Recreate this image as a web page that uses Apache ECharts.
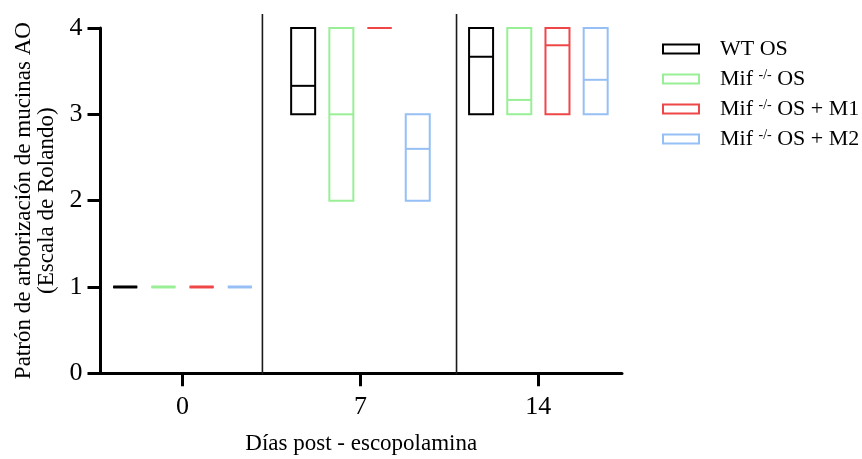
<!DOCTYPE html>
<html>
<head>
<meta charset="utf-8">
<script src="https://cdn.jsdelivr.net/npm/echarts@6/dist/echarts.min.js"></script>
<style>html,body{margin:0;padding:0;background:#fff}#c{width:862px;height:459px}</style>
</head>
<body>
<div id="c"></div>
<script>
// ---- data ----
var dayLabels = ['0', '7', '14'];
var seriesNames = ['WT OS', 'Mif -/- OS', 'Mif -/- OS + M1', 'Mif -/- OS + M2'];
var seriesColors = ['#000000', '#99ef95', '#ef4747', '#96c0f5'];
// each: [min, max, mean] per day (0, 7, 14)
var wtOS      = [[1, 1, 1], [3, 4, 3.33], [3, 4, 3.667]];
var mifOS     = [[1, 1, 1], [2, 4, 3.0],  [3, 4, 3.167]];
var mifOSM1   = [[1, 1, 1], [4, 4, 4.0],  [3, 4, 3.8]];
var mifOSM2   = [[1, 1, 1], [2, 3, 2.6],  [3, 4, 3.4]];
var seriesData = [wtOS, mifOS, mifOSM1, mifOSM2];
var yTicks = [0, 1, 2, 3, 4];
var separatorX = [0.449, 1.54];

var FONT = '"Liberation Serif", "Times New Roman", serif';
var chart = echarts.init(document.getElementById('c'), null, {renderer: 'canvas'});

function makeRender(si) {
  return function (params, api) {
    var x = api.value(0);
    var c = api.coord([x, api.value(1)]);
    var cTop = api.coord([x, api.value(2)]);
    var cMean = api.coord([x, api.value(3)]);
    var off = (si - 1.5) * 38.2;
    var w = 24;
    var left = c[0] + off - w / 2;
    var color = seriesColors[si];
    var flat = (c[1] - cTop[1]) < 0.5;
    return {
      type: 'group',
      children: [
        {type: 'rect', shape: {x: left, y: cTop[1], width: w, height: c[1] - cTop[1]},
          style: {fill: 'none', stroke: color, lineWidth: 2}},
        {type: 'line', shape: {x1: left, y1: cMean[1], x2: left + w, y2: cMean[1]},
          style: {stroke: color, lineWidth: (flat && api.value(1) < 2) ? 3 : 2}}
      ]
    };
  };
}

var series = seriesNames.map(function (name, si) {
  return {
    name: name,
    type: 'custom',
    renderItem: makeRender(si),
    itemStyle: {color: seriesColors[si]},
    encode: {x: 0, y: [1, 2]},
    data: seriesData[si].map(function (d, i) { return [i, d[0], d[1], d[2]]; }),
    clip: false,
    silent: true
  };
});

series.push({
  name: 'sep',
  type: 'custom',
  clip: false,
  silent: true,
  data: separatorX.map(function (v) { return [v, 0]; }),
  renderItem: function (params, api) {
    var p0 = api.coord([api.value(0), 0]);
    var p1 = api.coord([api.value(0), 4]);
    return {type: 'line', shape: {x1: p0[0], y1: p0[1] + 1, x2: p1[0], y2: p1[1] - 14},
      style: {stroke: '#1a1a1a', lineWidth: 1.6}};
  }
});

function legendFmt(name) {
  if (name.indexOf('-/-') >= 0) {
    var parts = name.split('-/-');
    return '{n|' + parts[0] + '}{s|-/-}{n|' + parts[1] + '}';
  }
  return '{n|' + name + '}';
}

var option = {
  animation: false,
  backgroundColor: '#ffffff',
  grid: {left: 100.5, right: 240, top: 28, bottom: 85.7, containLabel: false, outerBoundsMode: 'none'},
  legend: {
    orient: 'vertical',
    left: 657,
    top: 33,
    itemWidth: 36,
    itemHeight: 9,
    itemGap: 8,
    selectedMode: false,
    data: seriesNames.map(function (n, i) {
      return {name: n, icon: 'rect',
        itemStyle: {color: '#ffffff', borderColor: seriesColors[i], borderWidth: 2}};
    }),
    formatter: legendFmt,
    textStyle: {
      fontFamily: FONT, fontSize: 22, color: '#000', padding: [0, 0, 0, 16],
      rich: {
        n: {fontFamily: FONT, fontSize: 22, color: '#000', lineHeight: 22},
        s: {fontFamily: FONT, fontSize: 14, color: '#000', lineHeight: 22, verticalAlign: 'top', padding: [0, 0, 8, 0]}
      }
    }
  },
  xAxis: {
    type: 'value',
    min: -0.461,
    max: 2.47,
    name: 'Días post - escopolamina',
    nameLocation: 'middle',
    nameGap: 59,
    nameMoveOverlap: false,
    nameTextStyle: {fontFamily: FONT, fontSize: 23, color: '#000'},
    axisLine: {show: true, onZero: false, lineStyle: {color: '#000', width: 3}},
    axisTick: {show: true, length: 13, lineStyle: {color: '#000', width: 3}, customValues: [0, 1, 2]},
    axisLabel: {fontFamily: FONT, fontSize: 26, color: '#000', margin: 21,
      customValues: [0, 1, 2],
      formatter: function (v) { return dayLabels[Math.round(v)]; }},
    splitLine: {show: false}
  },
  yAxis: {
    type: 'value',
    min: 0,
    max: 4,
    interval: 1,
    name: 'Patrón de arborización de mucinas AO\n(Escala de Rolando)',
    nameLocation: 'middle',
    nameGap: 42,
    nameMoveOverlap: false,
    nameRotate: 90,
    nameTextStyle: {fontFamily: FONT, fontSize: 23, color: '#000', lineHeight: 23},
    axisLine: {show: true, onZero: false, lineStyle: {color: '#000', width: 3}},
    axisTick: {show: true, length: 13, lineStyle: {color: '#000', width: 3}},
    axisLabel: {fontFamily: FONT, fontSize: 26, color: '#000', margin: 18,
      formatter: function (v) { return yTicks.indexOf(v) >= 0 ? String(v) : ''; }},
    splitLine: {show: false}
  },
  series: series
};
chart.setOption(option);
</script>
</body>
</html>
